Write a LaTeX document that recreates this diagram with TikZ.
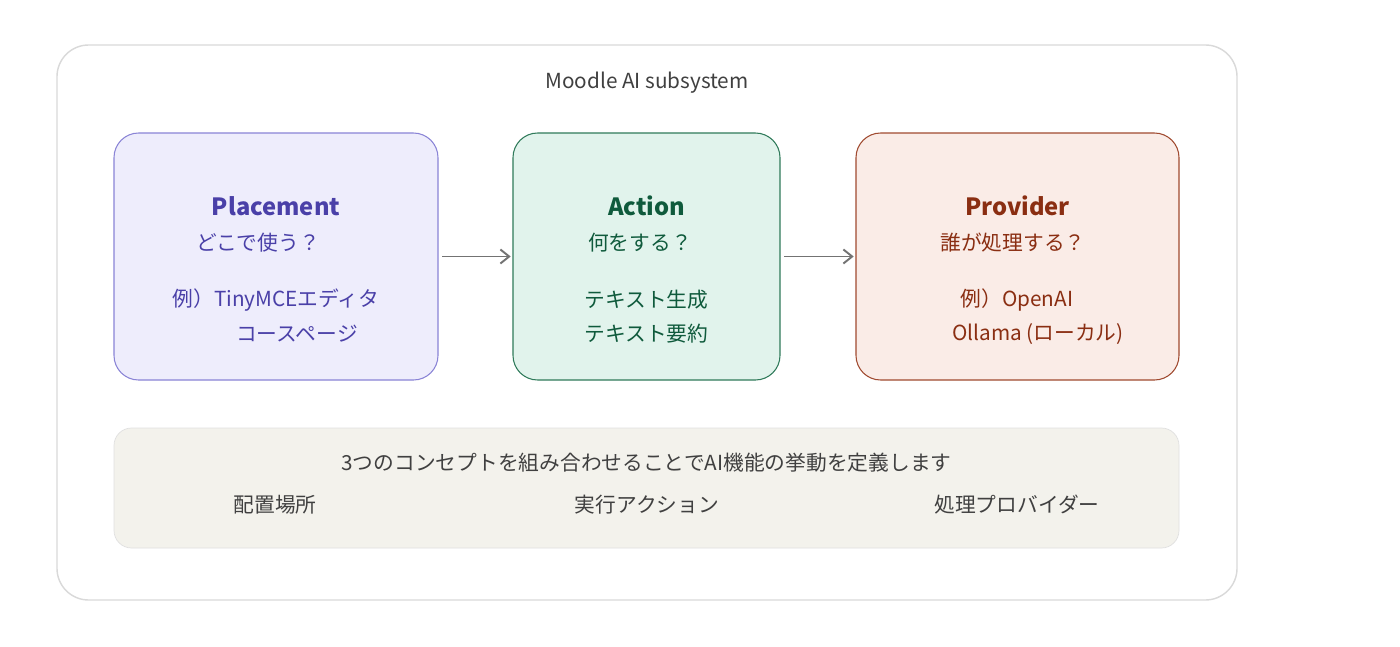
\documentclass[tikz,border=0pt]{standalone}
\usepackage{fontspec}
\setmainfont{Noto Sans CJK JP}
\usetikzlibrary{arrows.meta}
\begin{document}
\begin{tikzpicture}[x=0.02cm,y=-0.02cm,
  box/.style={draw,rounded corners=14pt,line width=0.6pt},
  ttl/.style={font=\fontsize{13.5}{16}\selectfont\bfseries},
  txt/.style={font=\fontsize{11.8}{14}\selectfont},
  arr/.style={draw=black!55,line width=1.1pt,-{Straight Barb[length=5pt,width=8pt]}}]
\definecolor{pf}{HTML}{EEEDFC}\definecolor{pb}{HTML}{8A84D6}\definecolor{pt}{HTML}{4A40A8}
\definecolor{af}{HTML}{E1F3EC}\definecolor{ab}{HTML}{2F7A5A}\definecolor{at}{HTML}{0F5A3C}
\definecolor{rf}{HTML}{FAECE7}\definecolor{rb}{HTML}{A04A30}\definecolor{rt}{HTML}{8A2E12}
\definecolor{bf}{HTML}{F3F2EC}
\useasboundingbox (0,0) rectangle (1400,646);
\fill[white] (0,0) rectangle (1400,646);
\draw[rounded corners=18pt,draw=black!15,line width=0.8pt] (57,45) rectangle (1237,600);
\node[txt,text=black!75] (t) at (647,83) {Moodle AI subsystem};
\node[box,fill=pf,draw=pb,minimum width=324*0.02cm,minimum height=247*0.02cm] (p) at (276,256.5) {};
\node[box,fill=af,draw=ab,minimum width=267*0.02cm,minimum height=247*0.02cm] (a) at (646.5,256.5) {};
\node[box,fill=rf,draw=rb,minimum width=323*0.02cm,minimum height=247*0.02cm] (r) at (1017.5,256.5) {};
\node[ttl,text=pt] (p1) at (276,206) {Placement};
\node[txt,text=pt] (p2) at (258,243) {どこで使う？};
\node[txt,text=pt] (p3) at (276,300) {例）TinyMCEエディタ};
\node[txt,text=pt] (p4) at (297,334) {コースページ};
\node[ttl,text=at] (a1) at (646.5,206) {Action};
\node[txt,text=at] (a2) at (640,243) {何をする？};
\node[txt,text=at] (a3) at (646.5,300) {テキスト生成};
\node[txt,text=at] (a4) at (646.5,334) {テキスト要約};
\node[ttl,text=rt] (r1) at (1017.5,206) {Provider};
\node[txt,text=rt] (r2) at (1013,243) {誰が処理する？};
\node[txt,text=rt] (r3) at (1017,300) {例）OpenAI};
\node[txt,text=rt] (r4) at (1038,334) {Ollama (ローカル)};
\draw[arr] ([xshift=2pt]p.east) -- ([xshift=-1pt]a.west);
\draw[arr] ([xshift=2pt]a.east) -- ([xshift=-1pt]r.west);
\node[draw=black!12,fill=bf,rounded corners=10pt,minimum width=1065*0.02cm,minimum height=120*0.02cm] (b) at (646.5,488) {};
\node[txt,text=black!75] (b0) at (646.5,463) {3つのコンセプトを組み合わせることでAI機能の挙動を定義します};
\node[txt,text=black!75] (b1) at (275,505) {配置場所};
\node[txt,text=black!75] (b2) at (647,505) {実行アクション};
\node[txt,text=black!75] (b3) at (1017,505) {処理プロバイダー};
\end{tikzpicture}
\end{document}
